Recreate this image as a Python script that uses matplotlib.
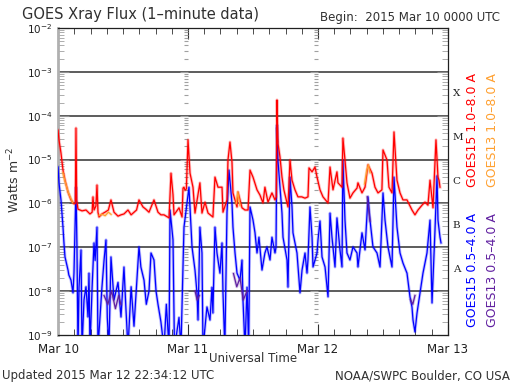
import numpy as np
import matplotlib
matplotlib.use("Agg")
import matplotlib.pyplot as plt
from matplotlib.ticker import LogLocator, FixedLocator, NullFormatter

nan = np.nan

# ---- data: hours since 2015 Mar 10 00:00 UTC, log10(flux W m^-2) ----
g15_long_t = [0, 0.18, 0.55, 0.92, 1.29, 1.85, 2.4, 2.95, 3.2, 3.32, 3.45, 3.69, 4.43, 5.17, 5.9, 6.3,
              6.46, 6.65, 7.0, 7.2, 7.38, 7.57, 8.12, 8.68, 9.3, 9.78, 10.34, 11.08, 11.63, 12.18,
              12.92, 13.5, 14.03, 14.5, 14.95, 15.69, 16.2, 16.8, 17.72, 18.46, 19.0, 19.57, 20.5,
              20.86, 21.23, 21.42, 22.34, 22.9, 23.08, 23.26, 23.45, 23.7, 24.0, 24.37, 24.92, 25.29,
              26.2, 26.58, 27.14, 27.7, 28.6, 28.98, 29.54, 30.28, 30.46, 31.2, 31.38, 31.75, 32.12,
              32.3, 33.05, 33.23, 33.97, 34.52, 35.08, 35.45, 36.0, 36.74, 37.29, 37.85, 38.2, 38.77,
              39.5, 40.06, 40.3, 40.43, 40.6, 40.98, 41.35, 41.7, 42.28, 42.46, 42.83, 43.2, 43.75,
              44.3, 45.0, 45.6, 46.15, 46.34, 46.9, 47.45, 47.82, 48.37, 48.92, 49.85, 50.22, 50.77,
              51.5, 51.69, 52.43, 52.6, 52.98, 53.35, 53.9, 54.46, 55.2, 55.38, 56.12, 56.68, 57.23,
              57.97, 58.52, 59.08, 59.8, 60.0, 60.74, 61.1, 61.66, 62.03, 62.58, 63.14, 63.69, 64.43,
              65.35, 65.9, 66.46, 67.2, 67.75, 68.3, 68.68, 69.23, 69.78, 70.15, 70.34, 70.52]
g15_long_v = [-4.33, -4.55, -4.85, -5.24, -5.47, -5.74, -5.92, -6.01, -6.0, -4.28, -5.92, -6.13, -6.17,
              -6.15, -6.24, -6.2, -5.85, -6.15, -6.06, -5.58, -6.2, -6.31, -6.24, -6.2, -6.15, -5.92,
              -6.2, -6.29, -6.26, -6.24, -6.15, -6.26, -6.2, -6.15, -5.92, -6.08, -6.13, -6.2, -5.92,
              -6.2, -6.26, -6.26, -6.33, -5.31, -5.8, -6.26, -6.1, -6.31, -5.65, -5.63, -5.7, -5.67,
              -4.55, -5.31, -5.63, -6.22, -5.53, -6.22, -5.97, -6.22, -6.31, -5.4, -5.63, -5.63, -6.2,
              -5.92, -5.01, -4.6, -5.06, -5.76, -6.08, -5.74, -6.1, -6.15, -6.15, -5.24, -5.4, -5.69,
              -5.81, -5.99, -5.63, -5.97, -5.76, -5.92, -5.85, -3.64, -4.62, -4.94, -5.4, -5.69, -5.99,
              -6.08, -5.01, -5.47, -5.69, -5.85, -5.85, -5.88, -5.85, -5.19, -5.28, -5.17, -5.4, -5.69,
              -5.85, -5.99, -5.17, -5.69, -5.28, -5.53, -5.63, -4.51, -5.01, -5.53, -5.88, -5.76, -5.65,
              -5.53, -5.76, -5.63, -5.12, -5.31, -5.63, -5.76, -5.69, -4.78, -5.01, -5.63, -5.76, -4.37,
              -5.47, -5.76, -5.92, -5.92, -6.15, -6.26, -6.15, -6.04, -5.97, -6.04, -5.47, -6.1, -4.55,
              -5.4, -5.47, -5.63]

g15_short_t = [0, 0.18, 0.55, 0.92, 1.1, 1.29, 1.85, 2.0, 2.4, 2.77, 2.95, 3.32, 3.5, 3.69, 3.88, 4.25,
               4.43, 4.8, 5.17, 5.54, 5.72, 5.9, 6.3, 6.65, 6.85, 7.2, 7.38, 8.12, 8.5, 8.86, 9.1, 9.4,
               9.78, 10.34, 11.08, 11.63, 12.18, 12.5, 12.92, 13.5, 14.03, 14.95, 15.3, 15.88, 16.3,
               16.8, 17.17, 17.72, 18.1, 18.46, 19.0, 19.57, 20.0, 20.5, 20.68, 21.23, 21.5, 22.34,
               22.7, 23.26, 23.7, 24.18, 24.74, 25.29, 25.66, 25.85, 26.2, 26.58, 26.77, 27.5, 28.06,
               28.43, 28.6, 28.98, 29.35, 29.9, 30.28, 30.46, 30.8, 31.2, 31.57, 32.12, 32.3, 32.68,
               33.05, 33.6, 33.97, 34.15, 34.52, 34.9, 35.2, 35.45, 36.0, 36.37, 36.74, 37.1, 37.66,
               38.2, 38.58, 39.14, 39.5, 40.06, 40.25, 40.43, 40.6, 40.98, 41.35, 41.54, 42.28, 42.46,
               42.83, 43.2, 43.38, 44.12, 44.68, 45.05, 45.6, 45.97, 46.15, 46.52, 46.9, 47.08, 47.82,
               48.0, 48.37, 48.74, 49.3, 49.85, 50.22, 50.58, 51.14, 51.5, 52.06, 52.43, 52.6, 52.98,
               53.35, 53.9, 54.46, 55.2, 55.38, 56.12, 56.68, 57.23, 57.6, 58.15, 58.89, 59.45, 60.0,
               60.37, 60.92, 61.66, 62.03, 62.58, 63.14, 63.69, 64.43, 64.98, 65.35, 65.54, 65.9,
               66.28, 66.83, 67.38, 68.12, 68.68, 69.05, 69.6, 69.97, 70.15, 70.52, 70.71]
g15_short_v = [-5.17, -5.53, -5.92, -6.54, -6.9, -7.22, -7.52, -7.63, -7.75, -8.04, -7.59, -5.63, -7.0,
               -9.3, -7.91, -7.06, -9.3, -8.2, -7.9, -8.59, -7.59, -9.3, -7.9, -6.9, -7.3, -6.54, -9.3,
               -7.9, -7.3, -6.83, -8.6, -9.3, -7.22, -8.2, -7.8, -8.59, -7.45, -8.3, -9.3, -7.9, -8.8,
               -6.99, -7.45, -7.75, -8.3, -8.0, -7.13, -7.29, -8.0, -8.3, -8.7, -9.3, -8.3, -9.3, -6.15,
               -6.83, -9.3, -8.6, -9.3, -6.54, -6.1, -5.63, -6.99, -7.52, -8.04, -8.66, -6.54, -7.13,
               -9.3, -8.36, -8.66, -7.91, -8.5, -6.54, -7.13, -7.59, -6.9, -8.04, -9.3, -6.2, -5.24,
               -5.99, -6.54, -7.13, -7.59, -7.75, -7.29, -8.2, -9.3, -7.91, -9.3, -6.08, -6.38, -6.67,
               -7.13, -6.77, -7.52, -7.13, -6.99, -7.29, -6.77, -7.13, -7.0, -4.21, -5.01, -5.63, -6.22,
               -6.77, -7.29, -7.91, -5.4, -6.08, -6.67, -7.13, -8.04, -7.52, -7.13, -7.59, -7.29, -6.08,
               -6.77, -7.45, -7.13, -6.83, -6.4, -7.22, -7.45, -8.13, -6.22, -6.77, -7.45, -6.33, -7.06,
               -7.45, -5.01, -6.38, -7.13, -7.29, -6.99, -7.13, -7.45, -6.67, -7.06, -5.85, -6.38, -6.99,
               -7.13, -7.45, -5.76, -6.38, -6.99, -7.45, -5.4, -6.54, -7.13, -7.36, -7.59, -8.13, -8.36,
               -8.66, -8.93, -8.5, -8.04, -7.59, -7.13, -6.38, -8.27, -6.61, -5.37, -6.38, -6.77, -6.9]

# GOES13 where it shows apart from GOES15 (nan = gap)
g13_long_t = [0.9, 1.3, 1.9, 2.7, nan, 7.6, 8.2, 8.7, 9.3, 9.8, nan, 32.9, 33.2, 33.6, nan, 56.6, 57.0, 57.3, 57.6]
g13_long_v = [-5.3, -5.5, -5.75, -5.98, nan, -6.27, -6.25, -6.28, -6.2, -6.25, nan, -6.0, -5.74, -6.05, nan, -5.55, -5.25, -5.12, -5.3]
g13_short_t = [8.5, 9.2, 9.9, 10.6, 11.2, 11.6, nan, 25.3, 25.7, 26.1, nan, 32.4, 33.0, 33.6, 34.2, 34.9,
               nan, 40.38, 40.45, 40.55, nan, 57.1, 57.3, 57.6, nan, 65.1, 65.5, 65.9]
g13_short_v = [-8.1, -8.3, -8.0, -8.4, -8.1, -8.3, nan, -8.0, -8.2, -8.1, nan, -7.6, -7.9, -7.7, -8.2, -8.0,
               nan, -4.3, -4.4, -4.6, nan, -5.85, -6.1, -6.4, nan, -8.2, -8.3, -8.1]

day_labels = ["Mar 10", "Mar 11", "Mar 12", "Mar 13"]
class_labels = ["X", "M", "C", "B", "A"]
class_levels = [-3.5, -4.5, -5.5, -6.5, -7.5]
decades = [-9, -8, -7, -6, -5, -4, -3, -2]

RED, ORANGE, BLUE, PURPLE = "#ff0000", "#ffa030", "#0000ff", "#6020a0"

fig = plt.figure(figsize=(5.12, 3.84), dpi=100)
W, H = 512.0, 384.0
ax = fig.add_axes([58 / W, 49 / H, 390 / W, 307 / H])
ax.set_yscale("log")
ax.set_xlim(0, 72)
ax.set_ylim(1e-9, 1e-2)

for d in decades[1:-1]:
    ax.axhline(10.0 ** d, color="#303030", lw=1.1, zorder=1)


def draw(t, v, c, z):
    t = np.asarray(t, float)
    y = 10.0 ** np.asarray(v, float)
    ax.plot(t, y, color=c, lw=2.2, alpha=0.25, zorder=z, solid_joinstyle="round")
    ax.plot(t, y, color=c, lw=0.9, zorder=z + 0.1)


draw(g15_short_t, g15_short_v, BLUE, 3)
draw(g13_short_t, g13_short_v, PURPLE, 4)
draw(g15_long_t, g15_long_v, RED, 5)
draw(g13_long_t, g13_long_v, ORANGE, 6)

# y axis ticks
ax.yaxis.set_major_locator(FixedLocator([10.0 ** d for d in decades]))
ax.set_yticklabels([r"10$^{%d}$" % d for d in decades], fontsize=7.5, color="#202020")
ax.yaxis.set_minor_locator(LogLocator(base=10, subs=np.arange(2, 10), numticks=20))
ax.yaxis.set_minor_formatter(NullFormatter())
ax.tick_params(axis="y", which="major", direction="in", length=8, color="#909090",
               left=True, right=True, pad=4)
ax.tick_params(axis="y", which="minor", direction="in", length=4, color="#a0a0a0",
               left=True, right=True)

# x axis ticks
ax.set_xticks([0, 24, 48, 72])
ax.set_xticklabels(day_labels, fontsize=8.5, color="#202020")
ax.set_xticks(np.arange(0, 73, 3), minor=True)
ax.tick_params(axis="x", which="major", direction="in", length=8, color="#303030",
               top=True, bottom=True, pad=5.5)
ax.tick_params(axis="x", which="minor", direction="in", length=4, color="#303030",
               top=True, bottom=True)

# tick columns at day boundaries
minor_vals = [m * 10.0 ** d for d in decades[:-1] for m in range(2, 10)]
for day in (24, 48):
    ax.hlines(minor_vals, day - 0.75, day, color="#a0a0a0", lw=0.8, zorder=2)
    ax.hlines([10.0 ** d for d in decades], day - 1.4, day, color="#a0a0a0", lw=0.8, zorder=2)

for s in ("top", "bottom", "right"):
    ax.spines[s].set_color("#202020")
    ax.spines[s].set_linewidth(0.9)
ax.spines["left"].set_color("#b0b0b0")
ax.spines["left"].set_linewidth(2.0)

# flare class letters on right
trans = ax.get_yaxis_transform()
for lab, lv in zip(class_labels, class_levels):
    ax.text(1.012, 10.0 ** lv, lab, transform=trans, fontsize=7.5,
            family="DejaVu Serif", color="#202020", ha="left", va="center")

# texts
fig.text(22 / W, 1 - 15 / H, "GOES Xray Flux (1\u2013minute data)", fontsize=10.5,
         color="#303030", ha="left", va="center")
fig.text(500 / W, 1 - 18 / H, "Begin:  2015 Mar 10 0000 UTC", fontsize=8.5,
         color="#303030", ha="right", va="center")
fig.text(14 / W, 1 - 180 / H, "Watts m$^{-2}$", fontsize=9, rotation=90,
         color="#303030", ha="center", va="center")
fig.text(253 / W, 1 - 358 / H, "Universal Time", fontsize=8.5, color="#303030",
         ha="center", va="center")
fig.text(2 / W, 1 - 376 / H, "Updated 2015 Mar 12 22:34:12 UTC", fontsize=8.5,
         color="#303030", ha="left", va="center")
fig.text(510 / W, 1 - 376 / H, "NOAA/SWPC Boulder, CO USA", fontsize=8.5,
         color="#303030", ha="right", va="center")

fig.text(472 / W, 1 - 130 / H, "GOES15 1.0\u20138.0 A", fontsize=9, rotation=90,
         color=RED, ha="center", va="center")
fig.text(493 / W, 1 - 130 / H, "GOES13 1.0\u20138.0 A", fontsize=9, rotation=90,
         color=ORANGE, ha="center", va="center")
fig.text(472 / W, 1 - 270 / H, "GOES15 0.5\u20134.0 A", fontsize=9, rotation=90,
         color=BLUE, ha="center", va="center")
fig.text(493 / W, 1 - 270 / H, "GOES13 0.5\u20134.0 A", fontsize=9, rotation=90,
         color=PURPLE, ha="center", va="center")

fig.savefig("out.png", dpi=100)
